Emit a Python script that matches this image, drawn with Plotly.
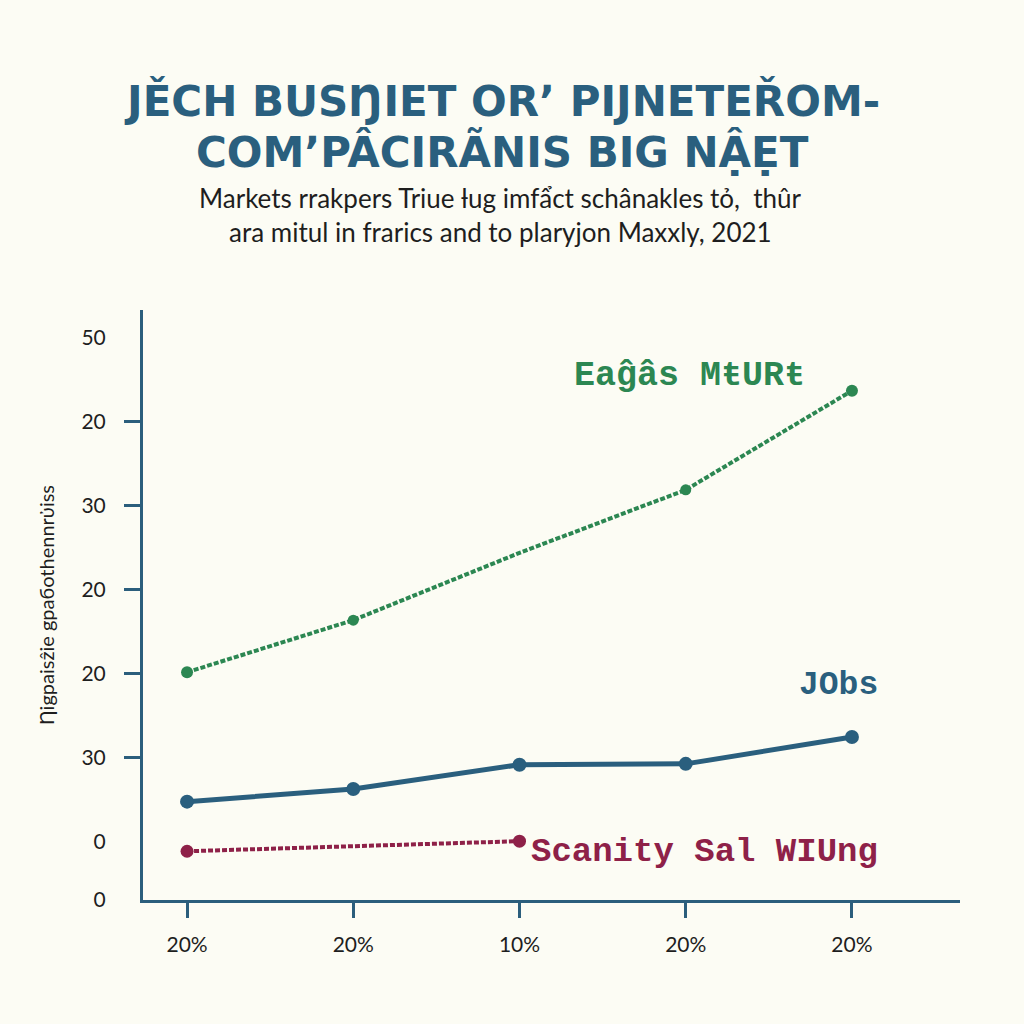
import plotly.graph_objects as go

# ---- data ----
x_pos = [0, 1, 2, 3, 4]
x_tick_labels = ["20%", "20%", "10%", "20%", "20%"]

y_tick_vals = [-6.9, 0, 10, 20, 30, 40, 50, 60]
y_tick_labels = ["0", "0", "30", "20", "20", "30", "20", "50"]
y_marked_ticks = [10, 20, 30, 40, 50]

green_name = "Eaĝâs MŧURŧ"
green_vals = [20.2, 26.4, 34.4, 41.9, 53.7]
green_marker = [12, 11, 0, 11, 12]

blue_name = "JObs"
blue_vals = [4.8, 6.3, 9.2, 9.3, 12.5]

red_name = "Scanity Sal WIUng"
red_x = [0, 2]
red_vals = [-1.1, 0.1]

title_lines = ["JĚCH BUSŊIET ORʼ PIJNETEŘOM-", "COMʼPÂCIRÃNIS BIG NẬẸT"]
subtitle_lines = ["Markets rrakpers Triue ƚug imfẩct schânakles tỏ,  thûr",
                  "ara mitul in frarics and to plaryjon Maxxly, 2021"]
y_title = "Ƞigpaisẑie gpaбothennrὐiss"

# ---- colours ----
BG = "#fcfcf4"
AXIS = "#2b5e7c"
GREEN = "#2c8752"
BLUE = "#2a5f7e"
RED = "#8e2148"

fig = go.Figure()

fig.add_trace(go.Scatter(
    x=x_pos, y=green_vals, mode="lines+markers", name=green_name,
    line=dict(color=GREEN, width=4, dash="5px,2px"),
    marker=dict(size=green_marker, color=GREEN, opacity=1, line=dict(width=0)),
    showlegend=False))

fig.add_trace(go.Scatter(
    x=x_pos, y=blue_vals, mode="lines+markers", name=blue_name,
    line=dict(color=BLUE, width=5),
    marker=dict(size=14, color=BLUE),
    showlegend=False))

fig.add_trace(go.Scatter(
    x=red_x, y=red_vals, mode="lines+markers", name=red_name,
    line=dict(color=RED, width=4, dash="5px,2px"),
    marker=dict(size=13, color=RED),
    showlegend=False))

label_font = "Liberation Mono, Courier New, monospace"
fig.add_annotation(x=3.02, y=55.5, text=f"<b>{green_name}</b>", showarrow=False,
                   font=dict(family=label_font, size=35, color=GREEN))
fig.add_annotation(x=3.92, y=18.6, text=f"<b>{blue_name}</b>", showarrow=False,
                   font=dict(family=label_font, size=33, color=BLUE))
fig.add_annotation(x=3.11, y=-1.2, text=f"<b>{red_name}</b>", showarrow=False,
                   font=dict(family=label_font, size=34, color=RED))

# title lines
for line, ypx in zip(title_lines, [101, 152]):
    fig.add_annotation(xref="paper", yref="paper", x=0.44, y=1.0,
                       yshift=310 - ypx, text=f"<b>{line}</b>", showarrow=False,
                       xanchor="center", yanchor="middle",
                       font=dict(family="DejaVu Sans, sans-serif", size=42, color=BLUE))
# subtitle lines
for line, ypx in zip(subtitle_lines, [198, 232]):
    fig.add_annotation(xref="paper", yref="paper", x=0.437, y=1.0,
                       yshift=310 - ypx, text=line, showarrow=False,
                       xanchor="center", yanchor="middle",
                       font=dict(family="Lato, Open Sans, sans-serif", size=26, color="#1e1e1e"))

fig.update_layout(
    width=1024, height=1024,
    paper_bgcolor=BG, plot_bgcolor=BG,
    margin=dict(l=143, r=64, t=310, b=124),
    xaxis=dict(range=[-0.265, 4.65], tickmode="array", tickvals=x_pos,
               ticktext=x_tick_labels, showgrid=False, zeroline=False,
               showline=True, linecolor=AXIS, linewidth=3,
               ticks="outside", ticklen=15, tickwidth=3, tickcolor=AXIS,
               ticklabelstandoff=9,
               tickfont=dict(family="Lato, sans-serif", size=21, color="#1e1e1e")),
    yaxis=dict(range=[-6.9, 63.3], tickmode="array", tickvals=y_tick_vals,
               ticktext=y_tick_labels, showgrid=False, zeroline=False,
               showline=True, linecolor=AXIS, linewidth=3,
               ticks="", ticklabelstandoff=30,
               minor=dict(tickmode="array", tickvals=y_marked_ticks,
                          ticks="outside", ticklen=16, tickwidth=3,
                          tickcolor=AXIS, showgrid=False),
               tickfont=dict(family="Lato, sans-serif", size=21, color="#1e1e1e"),
               title=dict(text=y_title, standoff=22,
                          font=dict(family="Lato, sans-serif", size=20, color="#1e1e1e"))),
)

fig.write_html("out.html")
